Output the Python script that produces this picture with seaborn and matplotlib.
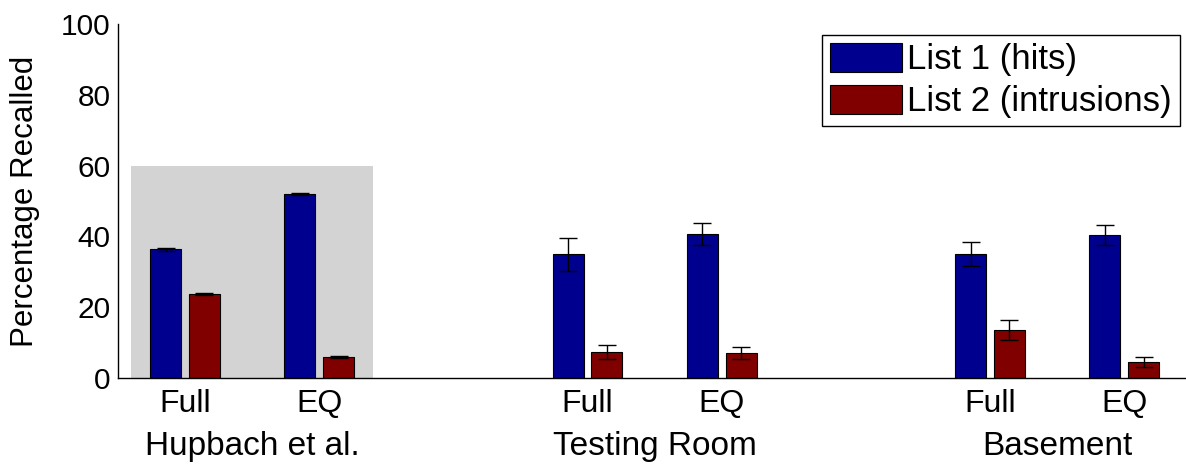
import numpy as np
import pandas as pd
import matplotlib
matplotlib.use("Agg")
import matplotlib.pyplot as plt
import matplotlib.transforms as mtransforms
from matplotlib.container import BarContainer
import seaborn as sns

# ---- data ----
groups = ["Hupbach et al.", "Testing Room", "Basement"]
group_centers = [1.5, 4.5, 7.5]
conditions = ["Full", "EQ", "Full", "EQ", "Full", "EQ"]
x_positions = [1, 2, 4, 5, 7, 8]
series = ["List 1 (hits)", "List 2 (intrusions)"]
list1_hits = [36.3, 52.0, 34.9, 40.7, 35.0, 40.4]
list2_intrusions = [23.7, 5.9, 7.3, 7.0, 13.6, 4.5]
list1_sem = [0.3, 0.3, 4.6, 3.2, 3.5, 2.9]
list2_sem = [0.3, 0.3, 1.9, 1.7, 2.9, 1.5]
yticks = [0, 20, 40, 60, 80, 100]

colors = ["#00008F", "#800000"]
highlight_x = (0.6, 2.4)
highlight_top = 60

rows = []
for xp, cond, v1, v2, s1, s2 in zip(x_positions, conditions, list1_hits,
                                     list2_intrusions, list1_sem, list2_sem):
    rows.append({"x": xp, "cond": cond, "series": series[0], "value": v1, "sem": s1})
    rows.append({"x": xp, "cond": cond, "series": series[1], "value": v2, "sem": s2})
df = pd.DataFrame(rows)

sns.set_theme(style="white")
plt.rcParams["font.family"] = ["Liberation Sans", "DejaVu Sans"]
plt.rcParams["font.size"] = 22

fig = plt.figure(figsize=(11.86, 4.68), dpi=100)
ax = fig.add_axes([118 / 1186, 90 / 468, 1068 / 1186, 354 / 468])

ax.axvspan(highlight_x[0], highlight_x[1], ymin=0, ymax=highlight_top / 100,
           color="#D3D3D3", zorder=0, lw=0)

sns.barplot(data=df, x="x", y="value", hue="series", hue_order=series,
            palette=colors, saturation=1, native_scale=True, width=0.577, gap=0.2,
            errorbar=None, edgecolor="black", linewidth=0.8, ax=ax, zorder=2)

sems = [list1_sem, list2_sem]
xp_arr = np.array(x_positions, dtype=float)
bar_conts = [c for c in ax.containers if isinstance(c, BarContainer)]
for hi, cont in enumerate(bar_conts):
    xs, ys, es = [], [], []
    for bar in cont.patches:
        xc = bar.get_x() + bar.get_width() / 2
        idx = int(np.argmin(np.abs(xp_arr - xc)))
        xs.append(xc)
        ys.append(bar.get_height())
        es.append(sems[hi][idx])
    ax.errorbar(xs, ys, yerr=es, fmt="none", ecolor="black", elinewidth=1,
                capsize=6.5, capthick=1, zorder=3)

ax.set_xlim(0.5, 8.46)
ax.set_ylim(0, 100)
ax.set_yticks(yticks)
ax.set_yticklabels([str(t) for t in yticks], fontsize=21.5)
ax.set_xticks(x_positions)
ax.set_xticklabels(conditions, fontsize=23)
ax.tick_params(axis="y", direction="in", length=7, width=1, pad=5.5, colors="black")
ax.tick_params(axis="x", length=0, pad=8, colors="black")

ax.set_xlabel("")
ax.set_ylabel("Percentage Recalled", fontsize=22.5, color="black")
ax.yaxis.set_label_coords(-0.073, 0.5)

for sp in ["top", "right"]:
    ax.spines[sp].set_visible(False)
for sp in ["left", "bottom"]:
    ax.spines[sp].set_color("black")
    ax.spines[sp].set_linewidth(1)

trans = mtransforms.blended_transform_factory(ax.transData, ax.transAxes)
for g, gc in zip(groups, group_centers):
    ax.text(gc, -0.218, g, transform=trans, ha="center", va="baseline",
            fontsize=24, color="black")

handles, labels = ax.get_legend_handles_labels()
leg = ax.legend(handles, labels, loc="upper right", bbox_to_anchor=(0.9944, 0.969),
                borderaxespad=0, fontsize=25, frameon=True, fancybox=False,
                edgecolor="black", framealpha=1, handlelength=2.05,
                handleheight=0.9, handletextpad=0.17, labelspacing=0.24,
                borderpad=0.23)
leg.get_frame().set_linewidth(1)
for t in leg.get_texts():
    t.set_color("black")

fig.savefig("out.png", dpi=100)
